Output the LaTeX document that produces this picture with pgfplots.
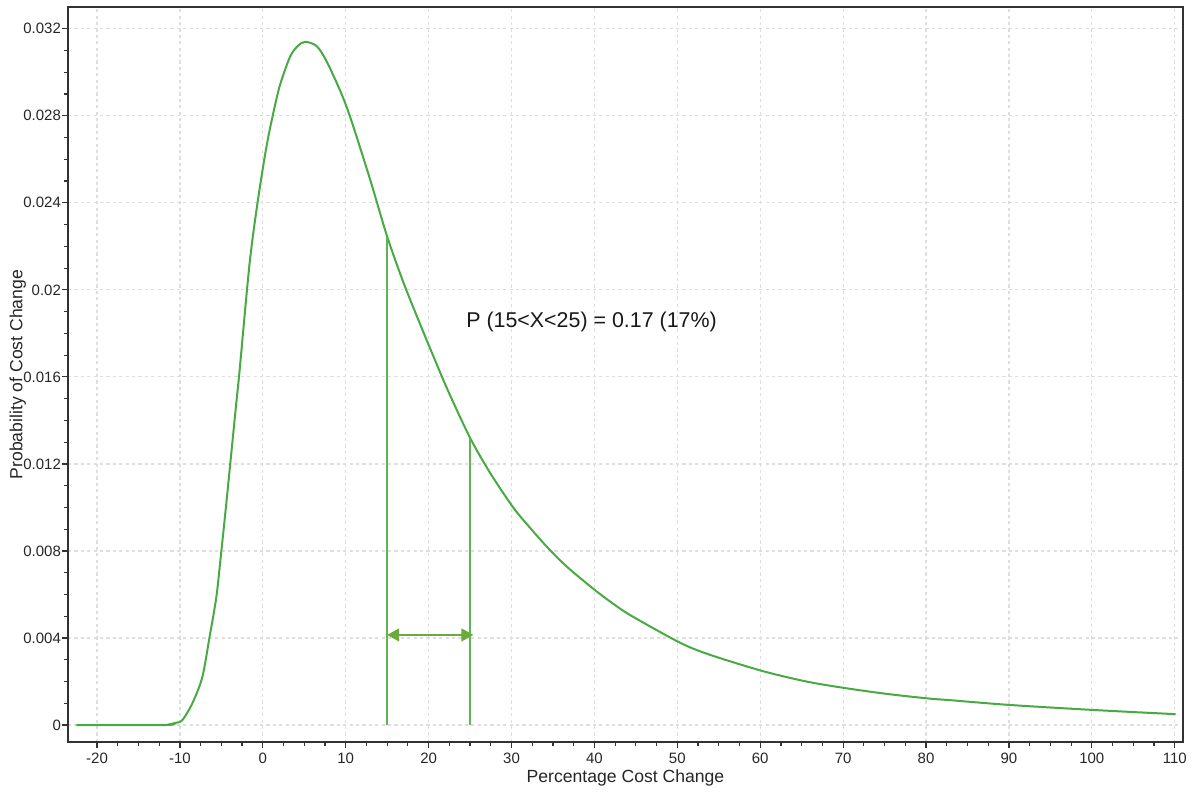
\documentclass[border=0pt]{standalone}
\usepackage{fontspec}
\setmainfont{Liberation Sans}
\usepackage{pgfplots}
\pgfplotsset{compat=1.18}
\usetikzlibrary{arrows.meta}
\definecolor{curvegreen}{RGB}{72,170,66}
\definecolor{linegreen}{RGB}{96,180,84}
\definecolor{arrowgreen}{RGB}{108,170,60}
\definecolor{gridgray}{RGB}{222,222,222}
\definecolor{framegray}{RGB}{50,50,50}
\begin{document}
\begin{tikzpicture}
\begin{axis}[
  scale only axis,
  width=557.5pt, height=367.5pt,
  xmin=-23.5, xmax=111,
  ymin=-0.00078, ymax=0.033,
  xtick={-20,-10,...,110},
  ytick={0,0.004,...,0.032},
  minor x tick num=3,
  minor y tick num=3,
  xtick pos=bottom, ytick pos=left,
  tick align=outside,
  major tick length=3pt, minor tick length=2pt,
  every tick/.style={framegray, line width=0.6pt},
  axis line style={framegray, line width=0.8pt},
  grid=major,
  major grid style={gridgray, line width=0.6pt, dash pattern=on 1.6pt off 1.6pt},
  scaled y ticks=false,
  /pgf/number format/assume math mode=true,
  yticklabel style={/pgf/number format/fixed, /pgf/number format/precision=3, xshift=3pt},
  xticklabel style={yshift=1.2pt},
  tick label style={font=\fontsize{7.5}{9}\selectfont, text=black!85},
  xlabel={Percentage Cost Change},
  ylabel={Probability of Cost Change},
  label style={font=\fontsize{8.8}{10}\selectfont, text=black!85},
  xlabel style={at={(axis description cs:0.5,-0.049)}, anchor=center},
  ylabel style={at={(axis description cs:-0.045,0.5)}, anchor=center},
  clip=false,
]
\addplot[curvegreen, line width=1pt, smooth, tension=0.5] coordinates {
  (-22.5,0) (-12,0) (-11.3,0.00003) (-10.5,0.0001) (-9.7,0.00023)
  (-8.5,0.001) (-7.3,0.0022) (-6.4,0.0041) (-5.6,0.0059) (-5.0,0.0080)
  (-4.4,0.0102) (-3.8,0.0125) (-3.2,0.0148) (-2.8,0.0163) (-1.6,0.0212)
  (-0.6,0.0241) (0.45,0.0266) (1.25,0.0281) (2.06,0.0294) (3.27,0.0307)
  (4.2,0.0312) (5.1,0.0314) (6.5,0.0312) (7.7,0.0305) (9.5,0.0290)
  (10.75,0.0277) (13.0,0.0250) (15.0,0.02245) (17.0,0.0203) (19.0,0.0184)
  (20.3,0.0172) (22.3,0.0154) (25.0,0.0132) (27.4,0.0116) (30.2,0.0100)
  (32.2,0.00908) (34.3,0.00818) (36.7,0.00727) (40.3,0.00613) (43.1,0.00535)
  (45,0.00490) (50.4,0.00377) (54.0,0.00322) (60.3,0.00248) (65.7,0.00199)
  (70.4,0.00169) (75.3,0.00143) (80.3,0.00122) (83,0.00114) (90.2,0.00092)
  (100.3,0.00069) (110.1,0.0005)
};
\addplot[linegreen, line width=1pt] coordinates {(15,0) (15,0.02245)};
\addplot[linegreen, line width=1pt] coordinates {(25,0) (25,0.0132)};
\addplot[arrowgreen, line width=0.7pt,
  {Triangle[length=6pt,width=6.5pt]}-{Triangle[length=6pt,width=6.5pt]}]
  coordinates {(15,0.00414) (25.4,0.00414)};
\node[anchor=west, font=\fontsize{10.7}{12}\selectfont, text=black!90, inner sep=0pt]
  at (axis cs:24.5,0.01853) {P (15<X<25) = 0.17 (17\%)};
\end{axis}
\path ([xshift=-34pt,yshift=-25.5pt]current axis.south west) rectangle ([xshift=6.5pt,yshift=3.5pt]current axis.north east);
\end{tikzpicture}
\end{document}
